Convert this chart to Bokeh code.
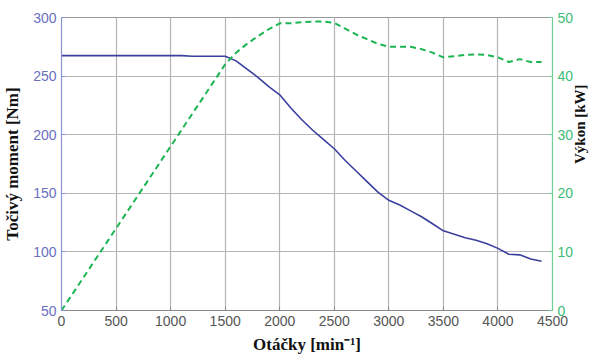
import math
from bokeh.plotting import figure
from bokeh.models import Range1d, LinearAxis, FixedTicker
from bokeh.embed import file_html
from bokeh.resources import INLINE

# Data
rpm_torque = [0, 500, 1000, 1100, 1200, 1400, 1500, 1600, 1700, 1800, 1900, 2000, 2100, 2200, 2300, 2400,
              2500, 2600, 2700, 2800, 2900, 3000, 3100, 3200, 3300, 3400, 3500, 3600, 3700,
              3800, 3900, 4000, 4100, 4200, 4300, 4400]
torque_nm = [267.5, 267.5, 267.5, 267.5, 267, 267, 267, 263, 256, 249, 241, 234, 223, 213, 204, 196,
             188, 178, 169, 160, 151, 144, 140, 135, 130, 124, 118, 115, 112,
             110, 107, 103, 98, 97.5, 94, 92]

rpm_power = [0, 500, 1000, 1500, 1600, 1700, 1800, 1900, 2000, 2100, 2200, 2300, 2400, 2500,
             2600, 2700, 2800, 2900, 3000, 3100, 3200, 3300, 3400, 3500, 3600, 3700,
             3800, 3900, 4000, 4100, 4200, 4300, 4400]
power_kw = [0, 14, 28, 42, 44, 45.5, 46.8, 48, 49, 49, 49.2, 49.3, 49.3, 49.1,
            48.1, 47.1, 46.3, 45.5, 45, 45, 45, 44.6, 44, 43.2, 43.4, 43.6,
            43.7, 43.6, 43.2, 42.4, 42.9, 42.4, 42.4]

x_ticks = [0, 500, 1000, 1500, 2000, 2500, 3000, 3500, 4000, 4500]
y_ticks = [50, 100, 150, 200, 250, 300]
y2_ticks = [0, 10, 20, 30, 40, 50]

x_title = "Otáčky [min⁻¹]"
y_title = "Točivý moment [Nm]"
y2_title = "Výkon [kW]"

TORQUE_COL = "#3a3f9e"
POWER_COL = "#1db553"
LEFT_TXT = "#6a6fbf"
RIGHT_TXT = "#3dbd78"
TITLE_FONT = "Liberation Serif"

p = figure(frame_width=491, frame_height=293, output_backend="svg", toolbar_location=None,
           x_range=Range1d(0, 4500), y_range=Range1d(50, 300),
           min_border_left=10, min_border_right=0, min_border_top=17, min_border_bottom=5)
p.background_fill_color = "white"
p.border_fill_color = "white"
p.outline_line_color = "#999999"
p.outline_line_width = 1

p.extra_y_ranges = {"power": Range1d(0, 50)}

# grid
p.xgrid.ticker = FixedTicker(ticks=x_ticks)
p.ygrid.ticker = FixedTicker(ticks=y_ticks)
for g in (p.xgrid[0], p.ygrid[0]):
    g.grid_line_color = "#b5b5b5"
    g.grid_line_width = 1.2

# bottom axis
xa = p.xaxis[0]
xa.ticker = FixedTicker(ticks=x_ticks)
xa.axis_label = x_title
xa.axis_label_text_font = TITLE_FONT
xa.axis_label_text_font_style = "bold"
xa.axis_label_text_font_size = "17px"
xa.axis_label_text_color = "#111111"
xa.axis_label_standoff = 6
xa.major_label_text_font = "Liberation Sans"
xa.major_label_text_font_size = "14px"
xa.major_label_text_color = "#555555"
xa.major_label_standoff = 5
xa.axis_line_color = "#888888"
xa.major_tick_in = 4
xa.major_tick_out = 0
xa.major_tick_line_color = "#888888"
xa.minor_tick_line_color = None

# left axis
ya = p.yaxis[0]
ya.ticker = FixedTicker(ticks=y_ticks)
ya.axis_label = y_title
ya.axis_label_text_font = TITLE_FONT
ya.axis_label_text_font_style = "bold"
ya.axis_label_text_font_size = "17px"
ya.axis_label_text_color = "#111111"
ya.axis_label_standoff = 8
ya.major_label_text_font = "Liberation Sans"
ya.major_label_text_font_size = "14px"
ya.major_label_text_color = LEFT_TXT
ya.major_label_standoff = 5
ya.axis_line_color = "#8d91d4"
ya.axis_line_width = 1.2
ya.major_tick_in = 4
ya.major_tick_out = 0
ya.major_tick_line_color = "#8d91d4"
ya.minor_tick_line_color = None

# right axis
ra = LinearAxis(y_range_name="power", ticker=FixedTicker(ticks=y2_ticks))
ra.axis_label = y2_title
ra.axis_label_text_font = TITLE_FONT
ra.axis_label_text_font_style = "bold"
ra.axis_label_text_font_size = "15px"
ra.axis_label_text_color = "#111111"
ra.axis_label_standoff = 4
if "axis_label_orientation" in ra.properties():
    ra.axis_label_orientation = math.pi / 2
ra.major_label_text_font = "Liberation Sans"
ra.major_label_text_font_size = "14px"
ra.major_label_text_color = RIGHT_TXT
ra.major_label_standoff = 5
ra.axis_line_color = "#6fcf97"
ra.axis_line_width = 1.2
ra.major_tick_in = 4
ra.major_tick_out = 0
ra.major_tick_line_color = "#6fcf97"
ra.minor_tick_line_color = None
p.add_layout(ra, "right")

p.line(rpm_torque, torque_nm, line_color=TORQUE_COL, line_width=1.6)
p.line(rpm_power, power_kw, y_range_name="power", line_color=POWER_COL, line_width=2,
       line_dash="6 4")

open("out.html", "w").write(file_html(p, INLINE))
